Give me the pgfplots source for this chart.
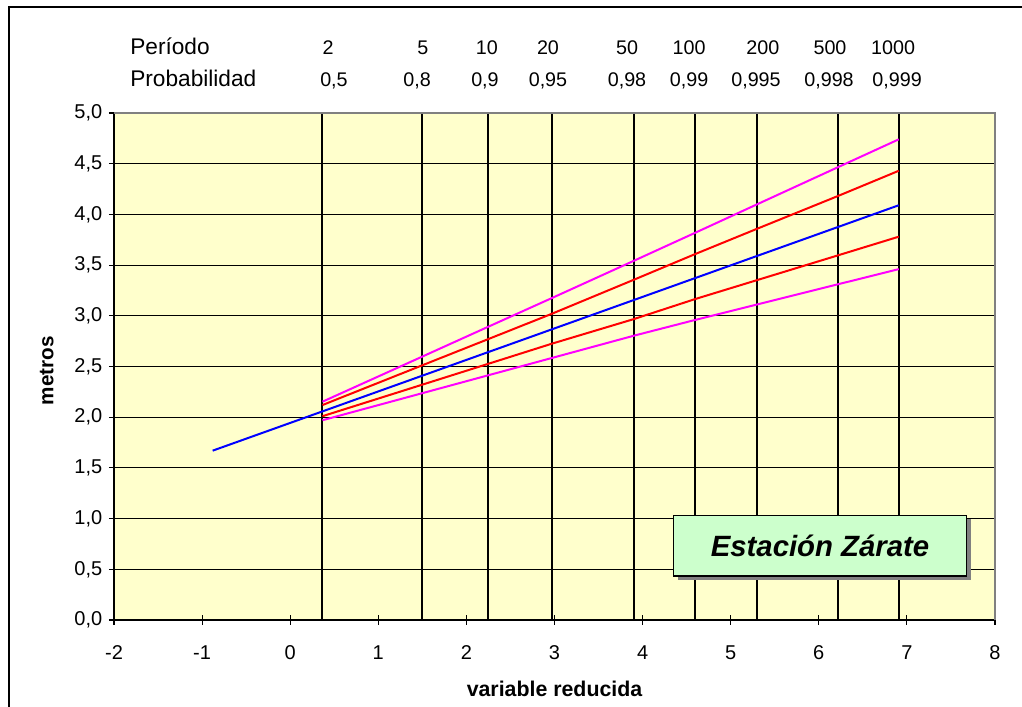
\documentclass[border=0pt]{standalone}
\usepackage{fontspec}
\setmainfont{Liberation Sans}
\usepackage{pgfplots}
\pgfplotsset{compat=1.18}
\usetikzlibrary{shadows}
\definecolor{bgyellow}{RGB}{255,255,204}
\definecolor{boxgreen}{RGB}{204,255,204}
\definecolor{frgray}{RGB}{128,128,128}
\definecolor{mag}{RGB}{255,0,255}
\definecolor{rd}{RGB}{255,0,0}
\definecolor{bl}{RGB}{0,0,255}
\newcommand{\tickfont}{\fontsize{15}{18}\selectfont}

\begin{document}
\begin{tikzpicture}[x=1pt,y=1pt]
\path[use as bounding box] (0,0) rectangle (766.5,530.25);
\draw[line width=0.9pt] (6.75,-5) -- (6.75,525) -- (780,525);
\begin{axis}[
  at={(85.5pt,65.25pt)}, anchor=south west,
  scale only axis, width=660.75pt, height=380.25pt,
  xmin=-2, xmax=8, ymin=0, ymax=5,
  xtick={-2,-1,0,1,2,3,4,5,6,7,8},
  ytick={0,0.5,1,1.5,2,2.5,3,3.5,4,4.5,5},
  axis lines*=left,
  axis line style={black, line width=1.1pt},
  axis background/.style={fill=bgyellow},
  tick align=center,
  major tick length=7.5pt,
  tick style={black, line width=0.8pt},
  ymajorgrids=true,
  major grid style={black, line width=0.75pt},
  extra x ticks={0.3665,1.4999,2.2504,2.9702,3.9019,4.6001,5.2958,6.2136,6.9073},
  extra x tick labels={},
  extra x tick style={grid=major, major grid style={black, line width=1.5pt}, major tick length=0pt},
  tick label style={font=\tickfont},
  xticklabel={\tickfont\pgfmathprintnumber[assume math mode=true]{\tick}},
  yticklabel={\tickfont\pgfmathprintnumber[fixed, fixed zerofill, precision=1, use comma, assume math mode=true]{\tick}},
  xticklabel style={yshift=-12pt},
  yticklabel style={xshift=-1.5pt},
  xlabel={variable reducida},
  ylabel={metros},
  every axis x label/.style={at={(axis description cs:0.5,-0.136)}, anchor=center, font=\fontsize{16}{19}\selectfont\bfseries},
  every axis y label/.style={at={(axis description cs:-0.0764,0.492)}, anchor=center, rotate=90, font=\fontsize{15.5}{18}\selectfont\bfseries},
  clip=false,
]
% upper magenta band
\addplot[mag, line width=1.5pt] coordinates {
 (0.3665,2.153) (1.4999,2.598) (2.2504,2.893) (2.9702,3.175) (3.9019,3.543)
 (4.6001,3.820) (5.2958,4.098) (6.2136,4.464) (6.9073,4.740)};
% upper red band
\addplot[rd, line width=1.5pt] coordinates {
 (0.3665,2.120) (1.4999,2.512) (2.2504,2.771) (2.9702,3.020) (3.9019,3.356)
 (4.6001,3.610) (5.2958,3.857) (6.2136,4.180) (6.9073,4.430)};
% fitted line
\addplot[bl, line width=1.5pt] coordinates {(-0.88,1.670) (6.9073,4.090)};
% lower red band
\addplot[rd, line width=1.5pt] coordinates {
 (0.3665,2.010) (1.4999,2.321) (2.2504,2.527) (2.9702,2.725) (3.9019,2.968)
 (4.6001,3.166) (5.2958,3.351) (6.2136,3.595) (6.9073,3.780)};
% lower magenta band
\addplot[mag, line width=1.5pt] coordinates {
 (0.3665,1.970) (1.4999,2.237) (2.2504,2.414) (2.9702,2.584) (3.9019,2.804)
 (4.6001,2.960) (5.2958,3.111) (6.2136,3.310) (6.9073,3.460)};

\draw[frgray, line width=1.5pt] (rel axis cs:0,1) -- (rel axis cs:1,1) -- (rel axis cs:1,0);

% header rows
\node[anchor=base west, font=\fontsize{17}{20}\selectfont, inner sep=0pt] at (axis cs:-1.818,5.58) {Período};
\node[anchor=base west, font=\fontsize{17}{20}\selectfont, inner sep=0pt] at (axis cs:-1.818,5.26) {Probabilidad};
\begin{scope}[every node/.style={anchor=base, font=\fontsize{14.8}{17}\selectfont, inner sep=0pt}]
\node at (axis cs:0.430,5.58) {2};
\node at (axis cs:1.507,5.58) {5};
\node at (axis cs:2.233,5.58) {10};
\node at (axis cs:2.926,5.58) {20};
\node at (axis cs:3.823,5.58) {50};
\node at (axis cs:4.527,5.58) {100};
\node at (axis cs:5.366,5.58) {200};
\node at (axis cs:6.127,5.58) {500};
\node at (axis cs:6.843,5.58) {1000};
\node at (axis cs:0.497,5.26) {0,5};
\node at (axis cs:1.440,5.26) {0,8};
\node at (axis cs:2.211,5.26) {0,9};
\node at (axis cs:2.926,5.26) {0,95};
\node at (axis cs:3.823,5.26) {0,98};
\node at (axis cs:4.527,5.26) {0,99};
\node at (axis cs:5.287,5.26) {0,995};
\node at (axis cs:6.116,5.26) {0,998};
\node at (axis cs:6.888,5.26) {0,999};
\end{scope}

\node[fill=boxgreen, draw=black, line width=1.2pt, minimum width=219.7pt, minimum height=45.5pt, inner sep=0pt,
  drop shadow={shadow xshift=3pt, shadow yshift=-3pt, fill=frgray, opacity=1},
  font=\fontsize{22}{26}\selectfont\bfseries\itshape] at (axis cs:6.014,0.733) {Estación Zárate};
\end{axis}
\end{tikzpicture}
\end{document}
